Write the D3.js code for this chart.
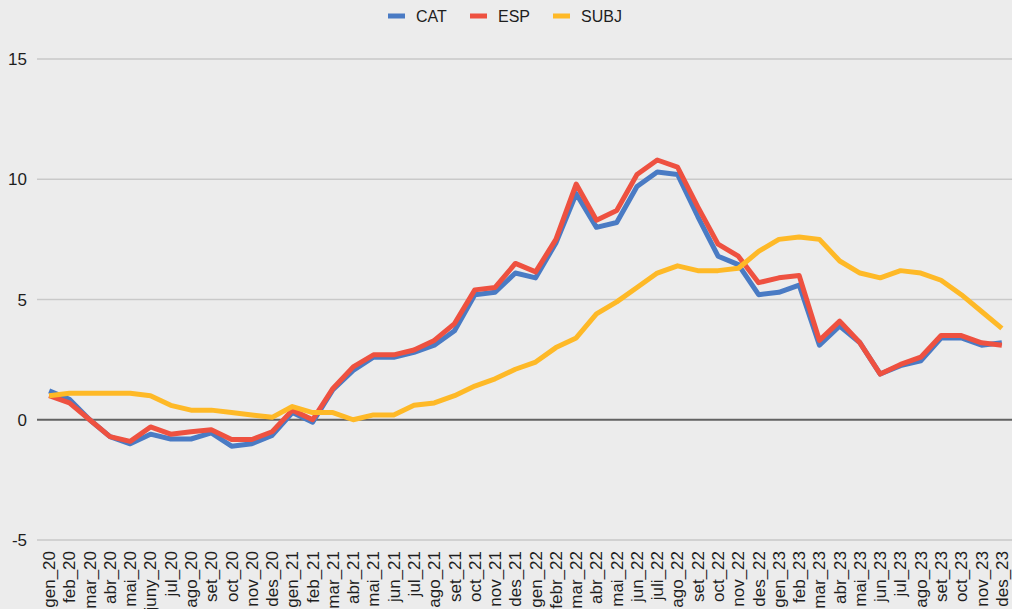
<!DOCTYPE html>
<html><head><meta charset="utf-8">
<script src="https://cdn.jsdelivr.net/npm/d3@7"></script>
<style>
html,body{margin:0;padding:0;background:#ececec;}
svg{display:block;font-family:"Liberation Sans",Arial,sans-serif;}
</style></head>
<body><svg id="c" width="1012" height="609"></svg>
<script>
const months = ["gen_20","feb_20","mar_20","abr_20","mai_20","juny_20","jul_20","ago_20","set_20","oct_20","nov_20","des_20",
"gen_21","feb_21","mar_21","abr_21","mai_21","jun_21","jul_21","ago_21","set_21","oct_21","nov_21","des_21",
"gen_22","febr_22","mar_22","abr_22","mai_22","jun_22","juli_22","ago_22","set_22","oct_22","nov_22","des_22",
"gen_23","feb_23","mar_23","abr_23","mai_23","jun_23","jul_23","ago_23","set_23","oct_23","nov_23","des_23"];
const cat = [1.2,0.85,0.0,-0.7,-1.0,-0.6,-0.8,-0.8,-0.55,-1.1,-1.0,-0.65,
0.3,-0.1,1.25,2.05,2.6,2.6,2.8,3.1,3.7,5.2,5.3,6.1,
5.9,7.35,9.4,8.0,8.2,9.7,10.3,10.2,8.45,6.8,6.45,5.2,
5.3,5.6,3.1,3.9,3.2,1.9,2.25,2.45,3.4,3.4,3.1,3.2];
const esp = [1.0,0.7,0.0,-0.7,-0.9,-0.3,-0.6,-0.5,-0.42,-0.82,-0.82,-0.5,
0.4,0.0,1.3,2.2,2.7,2.7,2.9,3.3,4.0,5.4,5.5,6.5,
6.15,7.5,9.8,8.3,8.7,10.2,10.8,10.5,8.85,7.3,6.8,5.7,
5.9,6.0,3.3,4.1,3.2,1.9,2.3,2.6,3.5,3.5,3.2,3.1];
const subj = [1.0,1.1,1.1,1.1,1.1,1.0,0.6,0.4,0.4,0.3,0.2,0.1,
0.55,0.3,0.3,0.0,0.2,0.2,0.6,0.7,1.0,1.4,1.7,2.1,
2.4,3.0,3.4,4.4,4.9,5.5,6.1,6.4,6.2,6.2,6.3,7.0,
7.5,7.6,7.5,6.6,6.1,5.9,6.2,6.1,5.8,5.2,4.5,3.8];
const yTicks = [-5,0,5,10,15];
const series = [
  {name:"CAT", values:cat, color:"#4a7bc4"},
  {name:"ESP", values:esp, color:"#ee5140"},
  {name:"SUBJ", values:subj, color:"#feb927"}
];

const svg = d3.select("#c");
const x = d3.scaleBand().domain(months).range([39,1012]);
const y = d3.scaleLinear().domain([-5,15]).range([540,59]);

svg.append("g").selectAll("line").data(yTicks).join("line")
  .attr("x1",37).attr("x2",1012)
  .attr("y1",d=>y(d)).attr("y2",d=>y(d))
  .attr("stroke",d=>d===0?"#626262":"#c9c9c9")
  .attr("stroke-width",d=>d===0?2.2:1.3);

svg.append("g").selectAll("text").data(yTicks).join("text")
  .attr("x",27).attr("y",d=>y(d)).attr("dy","0.36em")
  .attr("text-anchor","end").attr("font-size",17).attr("fill","#1e1e1e")
  .text(d=>d);

svg.append("g").selectAll("text").data(months).join("text")
  .attr("transform",d=>`translate(${x(d)+x.bandwidth()/2},551) rotate(-90)`)
  .attr("dy","0.35em")
  .attr("text-anchor","end").attr("font-size",17).attr("fill","#1e1e1e")
  .text(d=>d);

const line = d3.line().x((d,i)=>x(months[i])+x.bandwidth()/2).y(d=>y(d));
svg.append("g").selectAll("path").data(series).join("path")
  .attr("d",s=>line(s.values))
  .attr("fill","none").attr("stroke",s=>s.color)
  .attr("stroke-width",5).attr("stroke-linejoin","round").attr("stroke-linecap","butt");

const lx = [388,470,553];
const lg = svg.append("g").selectAll("g").data(series).join("g")
  .attr("transform",(d,i)=>`translate(${lx[i]},16)`);
lg.append("line").attr("x1",0).attr("x2",17).attr("y1",0).attr("y2",0)
  .attr("stroke",d=>d.color).attr("stroke-width",5);
lg.append("text").attr("x",28).attr("y",0).attr("dy","0.35em")
  .attr("font-size",16).attr("fill","#1e1e1e").text(d=>d.name);
</script></body></html>
